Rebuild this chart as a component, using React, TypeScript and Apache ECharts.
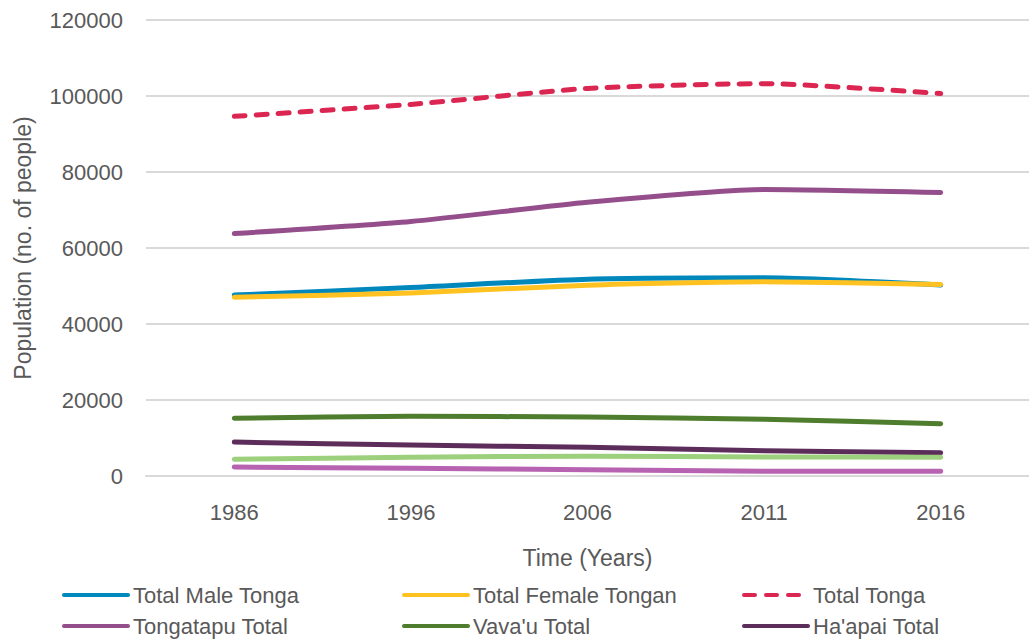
import React, { useEffect, useRef } from "react";
import * as echarts from "echarts";

const years = ["1986", "1996", "2006", "2011", "2016"];
const maleTonga = [47611, 49615, 51772, 52142, 50255];
const femaleTonga = [47038, 48169, 50219, 51110, 50396];
const totalTonga = [94649, 97784, 101991, 103252, 100651];
const tongatapu = [63794, 66979, 72045, 75416, 74611];
const vavau = [15175, 15715, 15505, 14922, 13738];
const haapai = [8919, 8138, 7570, 6616, 6125];
const eua = [4393, 4934, 5206, 5016, 4945];
const niuas = [2368, 2018, 1665, 1282, 1232];

const TEXT = "#595959";
const FONT = "'Liberation Sans', Arial, sans-serif";

export default function App() {
  const ref = useRef<HTMLDivElement>(null);
  useEffect(() => {
    if (!ref.current) return;
    const chart = echarts.init(ref.current, null, { renderer: "svg" });
    const mk = (name: string, data: number[], color: string, dashed = false) => ({
      name,
      type: "line",
      data,
      symbol: "none",
      smooth: 0.2,
      lineStyle: {
        color,
        width: 5,
        cap: "round",
        join: "round",
        type: dashed ? [11, 11] : "solid",
      },
      itemStyle: { color },
    });
    const legendBase = {
      orient: "vertical",
      top: 584,
      padding: 0,
      itemWidth: 64,
      itemHeight: 14,
      itemGap: 9,
      itemStyle: { opacity: 0 },
      lineStyle: { width: 4, cap: "round" },
      textStyle: { color: TEXT, fontSize: 22, fontFamily: FONT, lineHeight: 22 },
    };
    chart.setOption({
      animation: false,
      textStyle: { fontFamily: FONT },
      grid: { left: 146, top: 20, width: 890, height: 456 },
      legend: [
        { ...legendBase, left: 62, data: ["Total Male Tonga", "Tongatapu Total"] },
        { ...legendBase, left: 402, data: ["Total Female Tongan", "Vava'u Total"] },
        { ...legendBase, left: 742, data: ["Total Tonga", "Ha'apai Total"] },
      ],
      xAxis: {
        type: "category",
        data: years,
        boundaryGap: true,
        name: "Time (Years)",
        nameLocation: "middle",
        nameGap: 70,
        nameTextStyle: { color: TEXT, fontSize: 23, fontFamily: FONT },
        axisLine: { lineStyle: { color: "#D9D9D9", width: 2 } },
        axisTick: { show: false },
        axisLabel: { color: TEXT, fontSize: 22, fontFamily: FONT, margin: 25 },
      },
      yAxis: {
        type: "value",
        min: 0,
        max: 120000,
        interval: 20000,
        name: "Population (no. of people)",
        nameLocation: "middle",
        nameGap: 112,
        nameTextStyle: { color: TEXT, fontSize: 23, fontFamily: FONT },
        axisLine: { show: false },
        axisTick: { show: false },
        axisLabel: {
          color: TEXT,
          fontSize: 22,
          fontFamily: FONT,
          margin: 23,
          formatter: (v: number) => String(v),
        },
        splitLine: { lineStyle: { color: "#D9D9D9", width: 2 } },
      },
      series: [
        mk("Total Male Tonga", maleTonga, "#0088BD"),
        mk("Total Female Tongan", femaleTonga, "#FFC220"),
        mk("Total Tonga", totalTonga, "#DC2652", true),
        mk("Tongatapu Total", tongatapu, "#944E8B"),
        mk("Vava'u Total", vavau, "#4E7D2E"),
        mk("Ha'apai Total", haapai, "#5C2D5A"),
        mk("'Eua Total", eua, "#9DD07C"),
        mk("Niuas Total", niuas, "#B763B1"),
      ],
    });
    return () => chart.dispose();
  }, []);
  return (
    <div
      ref={ref}
      style={{ position: "absolute", left: 0, top: 0, width: 1029, height: 639, background: "#fff" }}
    />
  );
}
